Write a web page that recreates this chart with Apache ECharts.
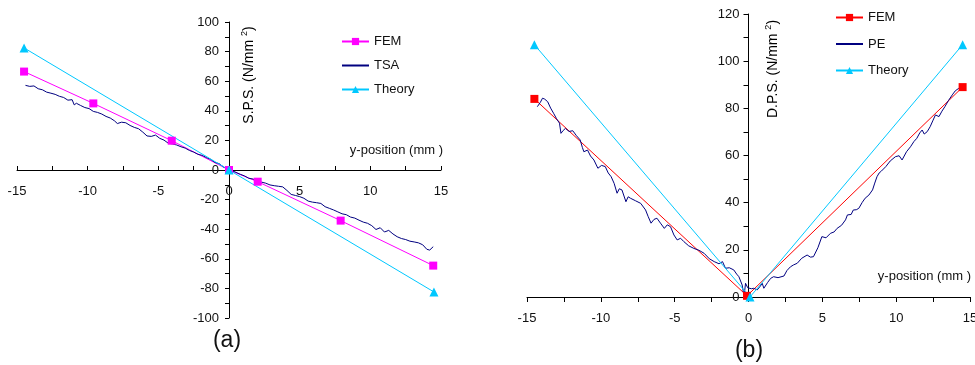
<!DOCTYPE html>
<html><head><meta charset="utf-8">
<script src="https://cdn.jsdelivr.net/npm/echarts@6/dist/echarts.min.js"></script>
<style>html,body{margin:0;padding:0;background:#fff}#c{width:975px;height:365px}</style>
</head><body><div id="c"></div>
<script>
// ---- data (a) ----
const femA = [[-14.5,66.5],[-9.6,45],[-4.05,19.8],[0,0],[2.03,-7.9],[7.9,-34.2],[14.45,-64.6]];
const theoryA = [[-14.5,82.5],[0,0],[14.5,-82.4]];
const tsaA = [[-14.4,57.2],[-14.1,56.5],[-13.8,56.8],[-13.5,54.9],[-13.2,54.2],[-12.9,52.6],[-12.6,51.9],[-12.3,51.1],[-12.0,49.8],[-11.7,49.0],[-11.4,47.2],[-11.1,47.5],[-10.95,44.0],[-10.8,45.1],[-10.5,43.6],[-10.2,42.2],[-9.9,41.5],[-9.6,39.6],[-9.3,38.9],[-9.0,37.8],[-8.7,36.2],[-8.4,35.1],[-8.1,33.2],[-7.9,31.4],[-7.6,32.3],[-7.3,31.9],[-7.0,30.1],[-6.7,28.8],[-6.4,27.9],[-6.1,25.6],[-5.8,23.0],[-5.5,22.7],[-5.2,23.6],[-4.9,21.4],[-4.6,20.2],[-4.3,18.1],[-4.0,17.6],[-3.7,16.9],[-3.4,15.7],[-3.1,14.8],[-2.8,13.2],[-2.5,12.1],[-2.2,10.6],[-1.9,9.9],[-1.6,8.4],[-1.3,7.2],[-1.0,5.1],[-0.7,4.3],[-0.4,2.1],[-0.1,0.6],[0.2,-0.4],[0.5,-1.6],[0.8,-2.9],[1.1,-4.0],[1.4,-5.6],[1.7,-6.1],[2.0,-7.4],[2.3,-8.2],[2.6,-8.9],[2.9,-10.1],[3.2,-10.6],[3.5,-11.0],[3.8,-11.4],[4.1,-13.8],[4.4,-16.5],[4.7,-17.2],[5.0,-18.0],[5.3,-19.1],[5.6,-21.0],[5.9,-21.7],[6.2,-22.1],[6.5,-22.6],[6.8,-24.8],[7.1,-25.9],[7.4,-27.0],[7.7,-28.3],[8.0,-29.6],[8.3,-30.2],[8.6,-31.8],[8.9,-32.5],[9.2,-33.9],[9.5,-35.2],[9.8,-36.0],[10.1,-37.6],[10.4,-40.2],[10.7,-39.0],[11.0,-41.9],[11.3,-40.8],[11.6,-43.2],[11.9,-45.1],[12.2,-46.3],[12.5,-47.0],[12.8,-48.1],[13.1,-48.6],[13.4,-49.2],[13.7,-50.5],[14.0,-53.6],[14.2,-54.1],[14.45,-51.8]];
// ---- data (b) ----
const femB = [[-14.5,84],[-0.1,0.5],[14.5,89]];
const theoryB = [[-14.5,107],[0.1,0],[14.5,107]];
const peB = [[-14.3,80.7],[-14.1,82.5],[-13.95,84.3],[-13.8,83.9],[-13.6,82.8],[-13.4,80.1],[-13.2,77.9],[-13.0,75.6],[-12.8,73.7],[-12.7,69.4],[-12.55,70.6],[-12.4,71.5],[-12.15,70.2],[-11.9,70.5],[-11.65,68.4],[-11.4,66.6],[-11.25,63.4],[-11.15,61.6],[-10.9,62.3],[-10.7,59.8],[-10.47,58.1],[-10.2,54.6],[-9.95,55.8],[-9.7,55.3],[-9.5,52.6],[-9.3,51.0],[-9.1,48.2],[-8.9,44.0],[-8.75,45.9],[-8.57,45.4],[-8.3,40.4],[-8.15,42.5],[-8.0,41.9],[-7.65,40.8],[-7.3,39.7],[-6.97,36.9],[-6.8,34.2],[-6.6,31.3],[-6.4,32.9],[-6.2,33.4],[-5.96,31.3],[-5.7,29.1],[-5.5,30.6],[-5.28,29.8],[-5.05,26.3],[-4.83,24.2],[-4.6,24.9],[-4.38,23.5],[-4.05,21.7],[-3.7,20.6],[-3.35,19.8],[-3.0,18.5],[-2.65,16.2],[-2.32,15.0],[-2.0,14.1],[-1.76,15.0],[-1.56,12.2],[-1.3,12.4],[-1.0,11.5],[-0.8,9.7],[-0.65,8.6],[-0.43,5.1],[-0.3,0.3],[-0.2,5.8],[-0.05,3.9],[0.2,3.5],[0.36,3.7],[0.59,3.0],[0.8,4.6],[0.93,5.8],[1.04,3.7],[1.3,6.2],[1.5,7.9],[1.7,8.6],[2.0,8.2],[2.4,8.9],[2.6,11.2],[2.84,12.8],[3.05,13.6],[3.3,14.3],[3.6,16.4],[3.97,17.8],[4.2,16.9],[4.4,17.1],[4.7,20.9],[4.97,25.6],[5.25,25.1],[5.55,27.0],[5.8,27.6],[6.0,29.1],[6.3,30.4],[6.57,32.7],[6.7,34.8],[6.8,35.5],[6.95,35.0],[7.1,36.9],[7.3,37.0],[7.47,37.6],[7.7,40.1],[7.9,41.9],[8.15,43.2],[8.4,45.4],[8.55,48.3],[8.7,51.0],[8.85,52.6],[9.0,53.4],[9.3,55.3],[9.6,57.7],[9.95,59.5],[10.2,59.9],[10.4,58.1],[10.7,61.6],[10.97,63.7],[11.2,65.9],[11.4,67.3],[11.6,69.6],[11.76,70.8],[11.9,69.1],[12.1,70.1],[12.3,72.2],[12.5,75.0],[12.66,77.2],[12.9,76.5],[13.1,78.8],[13.3,80.7],[13.55,83.4],[13.8,85.7],[14.0,87.4],[14.24,88.5],[14.47,88.9]];
// ---- axis ticks ----
const xTicks = [-15, -10, -5, 0, 5, 10, 15];
const yTicksA = [-100, -80, -60, -40, -20, 0, 20, 40, 60, 80, 100];
const yTicksB = [0, 20, 40, 60, 80, 100, 120];
// ---- texts ----
const xName = 'y-position (mm )';
const yNameA = ['S.P.S. (N/mm ', '2', ')'];
const yNameB = ['D.P.S. (N/mm ', '2', ')'];
const panelLabels = ['(a)', '(b)'];

const FONT = 'Liberation Sans, Arial, sans-serif';
const chart = echarts.init(document.getElementById('c'));
const axisCommon = {
  type: 'value',
  splitLine: { show: false },
  axisLine: { onZero: false, lineStyle: { color: '#000', width: 1 } },
  axisLabel: { color: '#111', fontSize: 13, fontFamily: FONT },
  minorTick: { show: true, splitNumber: 2, length: 4, lineStyle: { color: '#000' } },
};
const richName = {
  a: { fontSize: 14, fontFamily: FONT, color: '#111' },
  s: { fontSize: 9, fontFamily: FONT, color: '#111', padding: [0, 0, 9, 0] }
};
chart.setOption({
  animation: false,
  backgroundColor: '#fff',
  grid: [
    { left: 17, top: 22, width: 424, height: 296, outerBoundsMode: 'none', containLabel: false },
    { left: 527, top: 14, width: 443, height: 283, outerBoundsMode: 'none', containLabel: false }
  ],
  xAxis: [
    Object.assign({}, axisCommon, { gridIndex: 0, position: 'bottom', offset: -148,
      min: xTicks[0], max: xTicks[xTicks.length-1], interval: 5,
      axisTick: { show: true, inside: true, length: 4, lineStyle: { color: '#000' } },
      axisLabel: Object.assign({}, axisCommon.axisLabel, { margin: 15 }) }),
    Object.assign({}, axisCommon, { gridIndex: 1, position: 'bottom',
      min: xTicks[0], max: xTicks[xTicks.length-1], interval: 5,
      axisTick: { show: true, inside: false, length: 5, lineStyle: { color: '#000' } },
      minorTick: { show: true, splitNumber: 2, length: 5, lineStyle: { color: '#000' } },
      axisLabel: Object.assign({}, axisCommon.axisLabel, { margin: 15 }) })
  ],
  yAxis: [
    Object.assign({}, axisCommon, { gridIndex: 0, position: 'left', offset: -212,
      min: yTicksA[0], max: yTicksA[yTicksA.length-1], interval: 20,
      axisTick: { show: true, inside: false, length: 4, lineStyle: { color: '#000' } },
      axisLabel: Object.assign({}, axisCommon.axisLabel, { margin: 10 }) }),
    Object.assign({}, axisCommon, { gridIndex: 1, position: 'left', offset: -221.5,
      min: yTicksB[0], max: yTicksB[yTicksB.length-1], interval: 20,
      axisTick: { show: true, inside: false, length: 5, lineStyle: { color: '#000' } },
      minorTick: { show: true, splitNumber: 2, length: 5, lineStyle: { color: '#000' } },
      axisLabel: Object.assign({}, axisCommon.axisLabel, { margin: 9 }) })
  ],
  legend: [
    { orient: 'vertical', left: 336, top: 30, itemWidth: 27, itemHeight: 9, itemGap: 11,
      textStyle: { fontSize: 13, fontFamily: FONT, color: '#111' },
      data: ['FEM', { name: 'TSA', itemStyle: { opacity: 0 } }, 'Theory'] },
    { orient: 'vertical', left: 830, top: 6, itemWidth: 27, itemHeight: 9, itemGap: 13.5,
      textStyle: { fontSize: 13, fontFamily: FONT, color: '#111' },
      data: ['FEM ', { name: 'PE', itemStyle: { opacity: 0 } }, 'Theory '] }
  ],
  series: [
    { name: 'FEM', type: 'line', xAxisIndex: 0, yAxisIndex: 0, data: femA, color: '#ff00ff',
      symbol: 'rect', symbolSize: 8, lineStyle: { width: 1 } },
    { name: 'TSA', type: 'line', xAxisIndex: 0, yAxisIndex: 0, data: tsaA, color: '#000080',
      symbol: 'none', lineStyle: { width: 1 } },
    { name: 'Theory', type: 'line', xAxisIndex: 0, yAxisIndex: 0, data: theoryA, color: '#00c8ff',
      symbol: 'triangle', symbolSize: 9, lineStyle: { width: 1 } },
    { name: 'FEM ', type: 'line', xAxisIndex: 1, yAxisIndex: 1, data: femB, color: '#ff0000',
      symbol: 'rect', symbolSize: 8, lineStyle: { width: 1 } },
    { name: 'PE', type: 'line', xAxisIndex: 1, yAxisIndex: 1, data: peB, color: '#000080',
      symbol: 'none', lineStyle: { width: 1 } },
    { name: 'Theory ', type: 'line', xAxisIndex: 1, yAxisIndex: 1, data: theoryB, color: '#00c8ff',
      symbol: 'triangle', symbolSize: 9, lineStyle: { width: 1 } }
  ],
  graphic: [
    { type: 'text', x: 249, y: 75, rotation: Math.PI / 2,
      style: { text: '{a|' + yNameA[0] + '}{s|' + yNameA[1] + '}{a|' + yNameA[2] + '}', rich: richName,
        align: 'center', verticalAlign: 'middle' } },
    { type: 'text', x: 773, y: 69, rotation: Math.PI / 2,
      style: { text: '{a|' + yNameB[0] + '}{s|' + yNameB[1] + '}{a|' + yNameB[2] + '}', rich: richName,
        align: 'center', verticalAlign: 'middle' } },
    { type: 'text', x: 443, y: 150,
      style: { text: xName, fontSize: 13, fontFamily: FONT, fill: '#111', align: 'right', verticalAlign: 'middle' } },
    { type: 'text', x: 971, y: 276,
      style: { text: xName, fontSize: 13, fontFamily: FONT, fill: '#111', align: 'right', verticalAlign: 'middle' } },
    { type: 'text', x: 227, y: 341,
      style: { text: panelLabels[0], fontSize: 23, fontFamily: FONT, fill: '#111', align: 'center', verticalAlign: 'middle' } },
    { type: 'text', x: 749, y: 351,
      style: { text: panelLabels[1], fontSize: 23, fontFamily: FONT, fill: '#111', align: 'center', verticalAlign: 'middle' } }
  ]
});
</script>
</body></html>
